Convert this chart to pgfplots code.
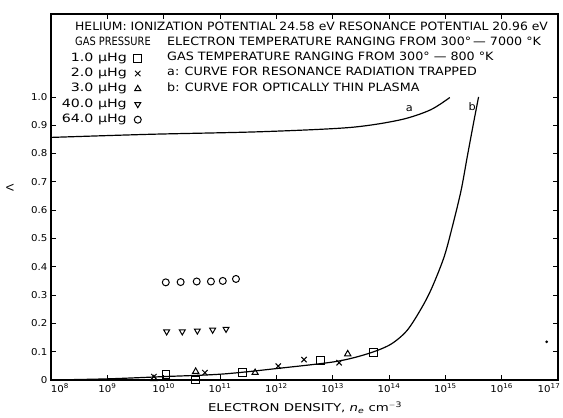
\documentclass[border=0pt]{standalone}
\usepackage{fontspec}
\setmainfont{DejaVu Sans}[FakeStretch=1.08]
\newfontfamily\legfont{DejaVu Sans}[FakeStretch=1.24]
\newfontfamily\narfont{DejaVu Sans}[FakeStretch=0.86]
\newfontfamily\rcfont{DejaVu Sans}[FakeStretch=1.11]
\usepackage{pgfplots}
\pgfplotsset{compat=1.18}
\begin{document}
\begin{tikzpicture}
\begin{axis}[
  at={(0,0)}, anchor=south west,
  width=507bp, height=366bp, scale only axis,
  xmode=log, xmin=1e8, xmax=1e17, ymin=0, ymax=1.293,
  axis line style={line width=1.2pt},
  major tick length=5bp, tick style={line width=0.8pt, black},
  xminorticks=false,
  xtick={1e8,1e9,1e10,1e11,1e12,1e13,1e14,1e15,1e16,1e17},
  xticklabels={\hspace*{18bp}10\textsuperscript{8},10\textsuperscript{9},10\textsuperscript{10},10\textsuperscript{11},10\textsuperscript{12},10\textsuperscript{13},10\textsuperscript{14},10\textsuperscript{15},10\textsuperscript{16},10\textsuperscript{17}\hspace*{18bp}},
  ytick={0,0.1,0.2,0.3,0.4,0.5,0.6,0.7,0.8,0.9,1.0},
  yticklabels={0,0.1,0.2,0.3,0.4,0.5,0.6,0.7,0.8,0.9,1.0},
  tick label style={font=\fontsize{9.5}{10}\selectfont},
  xlabel={ELECTRON DENSITY, \textit{n}\textsubscript{\textit{e}} cm\textsuperscript{$-$3}},
  xlabel style={at={(axis description cs:0.501,-0.0765)}, anchor=center, font=\legfont\fontsize{10.8}{12}\selectfont},
  ylabel={Λ},
  ylabel style={at={(axis description cs:-0.081,0.5246)}, anchor=center, font=\fontsize{10}{12}\selectfont},
  legend style={draw=none, fill=none, at={(0.0211,0.8964)}, anchor=north west,
    inner sep=0pt, row sep=3.4bp, column sep=7bp,
    nodes={inner sep=0pt, text height=9bp, text depth=3bp},
    font=\legfont\fontsize{11.5}{12}\selectfont},
  legend cell align=right, legend plot pos=right,
]
\addplot[only marks, mark=square, mark size=4, mark options={line width=1pt}] coordinates {
 (1.1e10,0.018) (3.7e10,0.0) (2.5e11,0.026) (6.0e12,0.070) (5.3e13,0.098)};
\addlegendentry{1.0 μHg}
\addplot[only marks, mark=x, mark size=3.8, mark options={line width=1pt}] coordinates {
 (6.7e9,0.012) (5.4e10,0.026) (1.08e12,0.049) (3.1e12,0.072) (1.3e13,0.061)};
\addlegendentry{2.0 μHg}
\addplot[only marks, mark=triangle, mark size=3.6, mark options={line width=1pt}] coordinates {
 (6.7e9,0.004) (3.7e10,0.030) (4.2e11,0.026) (1.85e13,0.092)};
\addlegendentry{3.0 μHg}
\addplot[only marks, mark=triangle, mark size=3.4, mark options={rotate=180, line width=1pt}] coordinates {
 (1.13e10,0.171) (2.14e10,0.171) (3.96e10,0.174) (7.4e10,0.177) (1.28e11,0.180)};
\addlegendentry{40.0 μHg}
\addplot[only marks, mark=o, mark size=3.5, mark options={line width=1pt}] coordinates {
 (1.09e10,0.345) (2.0e10,0.346) (3.86e10,0.348) (6.9e10,0.348) (1.12e11,0.350) (1.92e11,0.357)};
\addlegendentry{64.0 μHg}
% curve a
\addplot[forget plot, smooth, line width=1.2pt] coordinates {
 (1e8,0.857) (5.7e9,0.868) (5.1e11,0.877) (2.0e13,0.892) (1.58e14,0.919) (5.4e14,0.954) (1.2e15,0.998)};
% curve b
\addplot[forget plot, smooth, tension=0.5, line width=1.2pt] coordinates {
 (1e8,0.0) (1e9,0.004) (1e10,0.012) (1.1e11,0.021) (1.07e12,0.041) (1.12e13,0.065) (4.07e13,0.092)
 (1.05e14,0.125) (2.09e14,0.175) (3.8e14,0.255) (5.75e14,0.325) (9.55e14,0.436) (1.38e15,0.554)
 (1.91e15,0.671) (2.45e15,0.789) (3.16e15,0.907) (3.89e15,1.0)};
% stray dot
\addplot[forget plot, only marks, mark=*, mark size=1.2] coordinates {(6.3e16,0.135)};
\node[font=\fontsize{10.5}{12}\selectfont] at (axis cs:2.3e14,0.96) {a};
\node[font=\fontsize{10.5}{12}\selectfont] at (axis cs:3.0e15,0.966) {b};
\node[anchor=base west, inner sep=0pt, font=\fontsize{11.5}{12}\selectfont] at (rel axis cs:0.0473,0.9557)
 {HELIUM: IONIZATION POTENTIAL 24.58 eV RESONANCE POTENTIAL 20.96 eV};
\node[anchor=base west, inner sep=0pt, font=\narfont\fontsize{11.5}{12}\selectfont] at (rel axis cs:0.0473,0.9128)
 {GAS PRESSURE};
\node[anchor=base west, inner sep=0pt, font=\rcfont\fontsize{11.5}{12}\selectfont] at (rel axis cs:0.2288,0.9128)
 {ELECTRON TEMPERATURE RANGING FROM 300°\,— 7000 °K};
\node[anchor=base west, inner sep=0pt, font=\rcfont\fontsize{11.5}{12}\selectfont] at (rel axis cs:0.2288,0.8719)
 {GAS TEMPERATURE RANGING FROM 300° — 800 °K};
\node[anchor=base west, inner sep=0pt, font=\rcfont\fontsize{11.5}{12}\selectfont] at (rel axis cs:0.2288,0.8309)
 {a: CURVE FOR RESONANCE RADIATION TRAPPED};
\node[anchor=base west, inner sep=0pt, font=\rcfont\fontsize{11.5}{12}\selectfont] at (rel axis cs:0.2288,0.7883)
 {b: CURVE FOR OPTICALLY THIN PLASMA};
\end{axis}
\pgfresetboundingbox
\path (-51bp,-38bp) rectangle (512bp,380bp);
\end{tikzpicture}
\end{document}
